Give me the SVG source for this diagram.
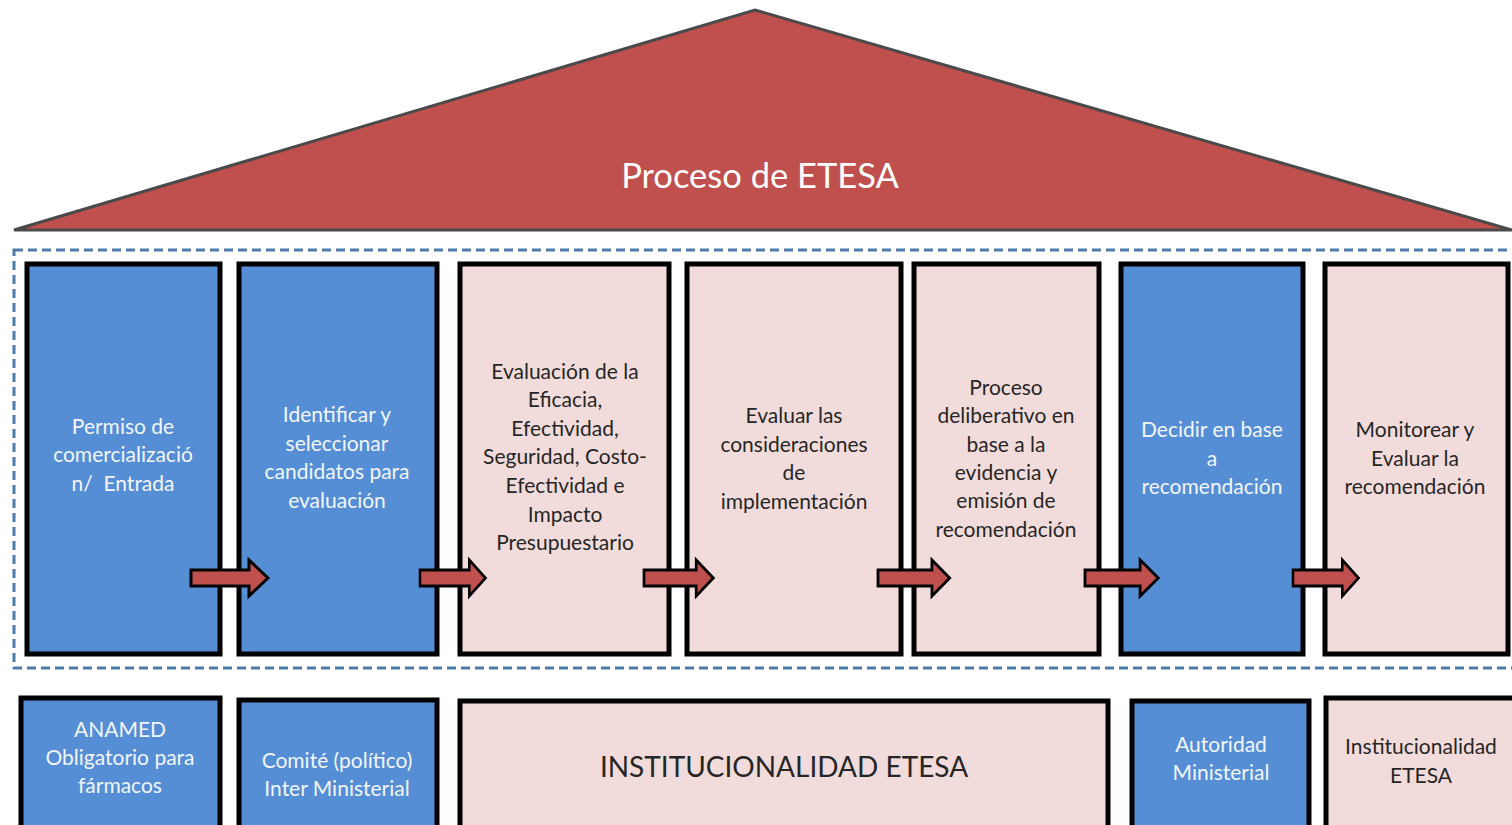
<svg xmlns="http://www.w3.org/2000/svg" width="1512" height="825" viewBox="0 0 1512 825">
<style>
.blue{fill:#558ed5;stroke:#000;stroke-width:5}
.pink{fill:#f2dcdb;stroke:#000;stroke-width:5}
.t{font-family:Lato,"Open Sans","Liberation Sans",sans-serif;font-size:21px;text-anchor:middle}
.w{fill:#f2f6fc}
.d{fill:#262626}
.arr{fill:#c0504d;stroke:#000;stroke-width:3;stroke-linejoin:miter}
</style>
<defs>
<polygon id="arrow" points="0,-8 58,-8 58,-18 77,0 58,18 58,8 0,8"/>
</defs>
<rect width="1512" height="825" fill="#fff"/>
<g id="roof">
<polygon points="14,230 755,10 1512,230" fill="#c0504d" stroke="#4a4a4a" stroke-width="3" stroke-linejoin="miter"/>
<text x="760" y="188" font-family="Lato,'Open Sans','Liberation Sans',sans-serif" font-size="34.5" fill="#fff" text-anchor="middle">Proceso de ETESA</text>
</g>
<g id="frame">
<rect x="14" y="250" width="1510" height="418" fill="none" stroke="#4f7bab" stroke-width="3" stroke-dasharray="9,5"/>
</g>
<g id="n1"><rect class="blue" x="27" y="264" width="193" height="390"/>
<text class="t w"><tspan x="123" y="434">Permiso de</tspan><tspan x="123" y="462">comercializació</tspan><tspan x="123" y="491">n/&#160; Entrada</tspan></text></g>
<g id="n2"><rect class="blue" x="239" y="264" width="198" height="390"/>
<text class="t w"><tspan x="337" y="422">Identificar y</tspan><tspan x="337" y="451">seleccionar</tspan><tspan x="337" y="479">candidatos para</tspan><tspan x="337" y="508">evaluación</tspan></text></g>
<g id="n3"><rect class="pink" x="460" y="264" width="209" height="390"/>
<text class="t d"><tspan x="565" y="379">Evaluación de la</tspan><tspan x="565" y="407">Eficacia,</tspan><tspan x="565" y="436">Efectividad,</tspan><tspan x="565" y="464">Seguridad, Costo-</tspan><tspan x="565" y="493">Efectividad e</tspan><tspan x="565" y="522">Impacto</tspan><tspan x="565" y="550">Presupuestario</tspan></text></g>
<g id="n4"><rect class="pink" x="687" y="264" width="214" height="390"/>
<text class="t d"><tspan x="794" y="423">Evaluar las</tspan><tspan x="794" y="452">consideraciones</tspan><tspan x="794" y="480">de</tspan><tspan x="794" y="509">implementación</tspan></text></g>
<g id="n5"><rect class="pink" x="914" y="264" width="185" height="390"/>
<text class="t d"><tspan x="1006" y="395">Proceso</tspan><tspan x="1006" y="423">deliberativo en</tspan><tspan x="1006" y="452">base a la</tspan><tspan x="1006" y="480">evidencia y</tspan><tspan x="1006" y="508">emisión de</tspan><tspan x="1006" y="537">recomendación</tspan></text></g>
<g id="n6"><rect class="blue" x="1121" y="264" width="182" height="390"/>
<text class="t w"><tspan x="1212" y="437">Decidir en base</tspan><tspan x="1212" y="466">a</tspan><tspan x="1212" y="494">recomendación</tspan></text></g>
<g id="n7"><rect class="pink" x="1325" y="264" width="183" height="390"/>
<text class="t d"><tspan x="1415" y="437">Monitorear y</tspan><tspan x="1415" y="466">Evaluar la</tspan><tspan x="1415" y="494">recomendación</tspan></text></g>
<g id="b1"><rect class="blue" x="21" y="698" width="199" height="140"/>
<text class="t w"><tspan x="120" y="737">ANAMED</tspan><tspan x="120" y="765">Obligatorio para</tspan><tspan x="120" y="793">fármacos</tspan></text></g>
<g id="b2"><rect class="blue" x="239" y="700" width="198" height="140"/>
<text class="t w"><tspan x="337" y="768">Comité (político)</tspan><tspan x="337" y="796">Inter Ministerial</tspan></text></g>
<g id="b3"><rect class="pink" x="460" y="701" width="648" height="140"/>
<text x="784" y="777" font-family="Lato,'Open Sans','Liberation Sans',sans-serif" font-size="28" fill="#262626" text-anchor="middle">INSTITUCIONALIDAD ETESA</text></g>
<g id="b4"><rect class="blue" x="1132" y="701" width="177" height="140"/>
<text class="t w"><tspan x="1221" y="752">Autoridad</tspan><tspan x="1221" y="780">Ministerial</tspan></text></g>
<g id="b5"><rect class="pink" x="1326" y="698" width="200" height="140"/>
<text class="t d"><tspan x="1421" y="754">Institucionalidad</tspan><tspan x="1421" y="783">ETESA</tspan></text></g>
<g id="connectors">
<use href="#arrow" class="arr" transform="translate(191,578)"/>
<use href="#arrow" class="arr" transform="translate(420,578) scale(0.85,1)"/>
<use href="#arrow" class="arr" transform="translate(644,578) scale(0.9,1)"/>
<use href="#arrow" class="arr" transform="translate(878,578) scale(0.93,1)"/>
<use href="#arrow" class="arr" transform="translate(1085,578) scale(0.95,1)"/>
<use href="#arrow" class="arr" transform="translate(1293,578) scale(0.85,1)"/>
</g>
</svg>
